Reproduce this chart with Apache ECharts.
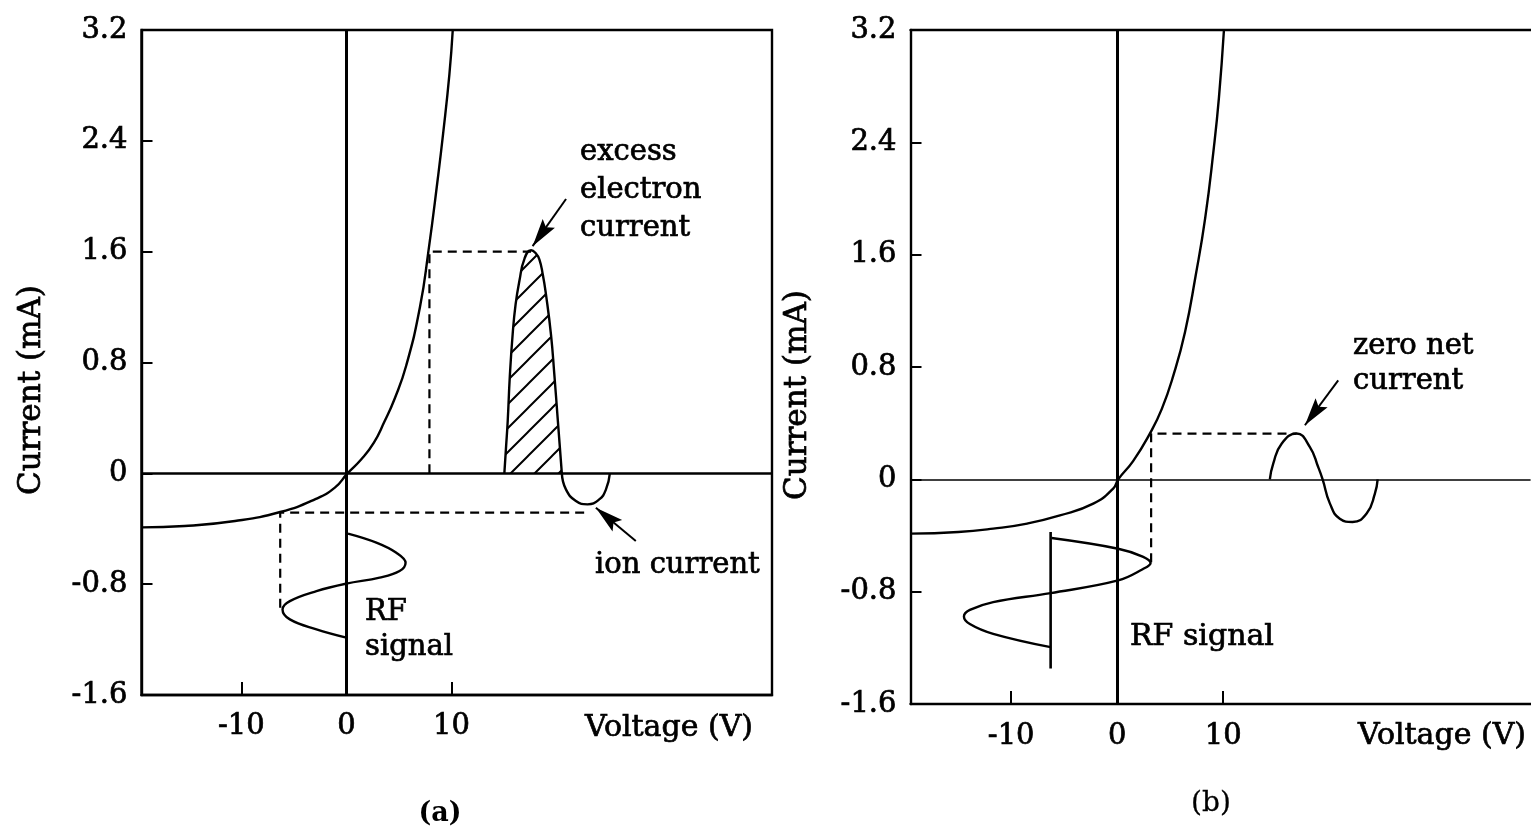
<!DOCTYPE html>
<html>
<head>
<meta charset="utf-8">
<script src="https://cdn.jsdelivr.net/npm/echarts@6/dist/echarts.min.js"></script>
<style>
html,body{margin:0;padding:0;background:#fff;}
#chart{width:1531px;height:831px;}
</style>
</head>
<body>
<div id="chart"></div>
<script>
// ---- axis ticks ----
const xTicks = [-10, 0, 10];
const yTicks = [-1.6, -0.8, 0, 0.8, 1.6, 2.4, 3.2];

// ---- probe I-V characteristic (V, mA) ----
const ivCurveA = [[-19.5,-0.39],[-15.4,-0.38],[-10.6,-0.344],[-6.3,-0.279],[-3.0,-0.188],[-1.1,-0.103],[0.1,0],[1.4,0.1],[2.6,0.22],[3.6,0.37],[4.6,0.54],[5.7,0.78],[7.0,1.2],[7.8,1.6],[8.7,2.13],[9.2,2.45],[9.8,2.88],[10.12,3.2]];
const ivCurveB = [[-19.5,-0.387],[-15,-0.375],[-11.7,-0.351],[-8.5,-0.315],[-5.4,-0.257],[-2.26,-0.173],[-0.38,-0.066],[0.1,0],[1.5,0.13],[3.08,0.326],[4.2,0.5],[5.3,0.74],[6.4,1.05],[7.4,1.45],[8.3,1.86],[9.1,2.35],[9.6,2.72],[10.07,3.2]];

// ---- panel (a) ----
const rfSignalA = [[0.15,-0.435],[2.85,-0.5],[4.75,-0.573],[5.63,-0.645],[5.06,-0.705],[3.16,-0.753],[0,-0.796],[-2.85,-0.85],[-5.38,-0.922],[-6.08,-0.982],[-5.38,-1.054],[-2.85,-1.126],[0,-1.186]];
const excessA = [[15.03,0],[15.2,0.2],[15.35,0.378],[15.55,0.7],[15.82,1.004],[16.1,1.22],[16.46,1.388],[16.95,1.55],[17.57,1.61],[18.0,1.59],[18.36,1.545],[18.7,1.43],[18.99,1.292],[19.47,1.0],[19.78,0.72],[20.1,0.4],[20.32,0.18],[20.5,0]];
const ionA = [[20.5,0],[20.89,-0.116],[21.84,-0.2],[22.94,-0.224],[24.06,-0.188],[24.7,-0.116],[25.07,0]];
const guideA1 = [[7.9,0],[7.9,1.6],[17.57,1.6]];
const guideA2 = [[-6.3,-0.97],[-6.3,-0.284],[22.94,-0.284]];
const arrowA1 = [[20.9,1.98],[17.72,1.64]];
const arrowA2 = [[27.54,-0.489],[23.74,-0.248]];

// ---- panel (b) ----
const rfSignalB = [[-6.19,-0.418],[0.09,-0.494],[2.4,-0.55],[3.15,-0.596],[2.4,-0.64],[0.09,-0.72],[-6.28,-0.81],[-11.7,-0.874],[-13.9,-0.93],[-14.46,-0.976],[-13.9,-1.03],[-11.7,-1.1],[-6.28,-1.195]];
const rfAxisB = [[-6.28,-0.375],[-6.28,-1.348]];
const waveB = [[14.4,0],[14.72,0.112],[15.51,0.254],[16.92,0.326],[18.18,0.23],[18.96,0.088],[19.38,0],[20.07,-0.173],[21.0,-0.28],[22.2,-0.304],[23.53,-0.244],[24.31,-0.102],[24.57,0]];
const guideB = [[3.2,-0.59],[3.2,0.326],[16.92,0.326]];
const arrowB = [[20.85,0.705],[17.71,0.385]];

const FONT = 'DejaVu Serif';
const BLACK = '#000';
const LW = 2.4;

function hatchPattern() {
  const c = document.createElement('canvas');
  c.width = 24; c.height = 24;
  const g = c.getContext('2d');
  g.strokeStyle = BLACK; g.lineWidth = 2;
  g.beginPath();
  g.moveTo(-4, 28); g.lineTo(28, -4);
  g.moveTo(-8, 8); g.lineTo(8, -8);
  g.moveTo(16, 32); g.lineTo(32, 16);
  g.stroke();
  return c;
}

function makeX(gi, max, margin) {
  return {
    gridIndex: gi, type: 'value', min: -19.5, max: max,
    axisLine: {show: true, onZero: false, lineStyle: {color: BLACK, width: LW}},
    axisTick: {show: true, inside: true, length: 13, customValues: xTicks, lineStyle: {color: BLACK, width: 2}},
    axisLabel: {show: true, customValues: xTicks, margin: margin, color: BLACK, fontFamily: FONT, fontSize: 29,
      textBorderColor: BLACK, textBorderWidth: 0.7},
    splitLine: {show: false}
  };
}
function makeTop(gi, max) {
  return {
    gridIndex: gi, type: 'value', min: -19.5, max: max, position: 'top',
    axisLine: {show: true, onZero: false, lineStyle: {color: BLACK, width: LW}},
    axisTick: {show: false}, axisLabel: {show: false}, splitLine: {show: false}
  };
}
function makeY(gi) {
  return {
    gridIndex: gi, type: 'value', min: -1.6, max: 3.2, interval: 0.8,
    axisLine: {show: true, onZero: false, lineStyle: {color: BLACK, width: LW}},
    axisTick: {show: true, inside: true, length: 11, customValues: yTicks, lineStyle: {color: BLACK, width: 2}},
    axisLabel: {show: true, customValues: yTicks, margin: 14, color: BLACK, fontFamily: FONT, fontSize: 29,
      textBorderColor: BLACK, textBorderWidth: 0.7,
      formatter: v => String(Math.round(v * 10) / 10)},
    splitLine: {show: false}
  };
}

function curve(gi, data, width, smooth, extra) {
  return Object.assign({
    type: 'line', xAxisIndex: gi, yAxisIndex: gi, data: data, smooth: smooth,
    symbol: 'none', silent: true, z: 5,
    lineStyle: {color: BLACK, width: width}
  }, extra || {});
}
function dashed(gi, data) {
  return curve(gi, data, 2.2, false, {lineStyle: {color: BLACK, width: 2.2, type: [9, 6]}});
}
function arrow(gi, pts) {
  return {
    type: 'line', xAxisIndex: gi, yAxisIndex: gi, data: [], silent: true,
    markLine: {
      silent: true, animation: false, label: {show: false},
      lineStyle: {color: BLACK, width: 2, type: 'solid'},
      data: [[
        {coord: pts[0], symbol: 'none'},
        {coord: pts[1], symbol: 'path://M7,0 L14,28 L7,23 L0,28 Z', symbolSize: [15, 28], symbolOffset: [0, 14]}
      ]]
    }
  };
}
function zeroLines(gi, vw, hw) {
  return {
    type: 'line', xAxisIndex: gi, yAxisIndex: gi, data: [], silent: true,
    markLine: {
      silent: true, animation: false, symbol: 'none', label: {show: false},
      data: [
        {xAxis: 0, lineStyle: {color: BLACK, width: vw, type: 'solid'}},
        {yAxis: 0, lineStyle: {color: BLACK, width: hw, type: 'solid'}}
      ]
    }
  };
}

function txt(x, y, text, opts) {
  opts = opts || {};
  return {
    type: 'text', x: x, y: y, rotation: opts.rotation || 0, z: 100,
    style: {
      text: text, fill: BLACK, stroke: BLACK, lineWidth: opts.sw == null ? 0.7 : opts.sw,
      font: (opts.weight || 'normal') + ' ' + (opts.size || 29) + 'px "' + FONT + '"',
      align: opts.align || 'left', verticalAlign: 'middle', lineHeight: opts.lh || 35
    }
  };
}

const chart = echarts.init(document.getElementById('chart'), null, {renderer: 'canvas'});
chart.setOption({
  animation: false,
  backgroundColor: '#fff',
  grid: [
    {left: 141.5, top: 30, width: 630.5, height: 665, show: true, borderColor: BLACK, borderWidth: LW, backgroundColor: 'transparent'},
    {left: 910.5, top: 30, width: 620.1, height: 674, show: false}
  ],
  xAxis: [makeX(0, 40.5, 17), makeX(1, 39, 18), makeTop(1, 39)],
  yAxis: [makeY(0), makeY(1)],
  series: [
    zeroLines(0, 3, 2.6),
    curve(0, ivCurveA, LW, 0.5),
    curve(0, rfSignalA, LW, 0.4),
    curve(0, excessA, LW, 0.5, {areaStyle: {color: {image: hatchPattern(), repeat: 'repeat'}, opacity: 1, origin: 0}}),
    curve(0, ionA, LW, 0.5),
    dashed(0, guideA1),
    dashed(0, guideA2),
    arrow(0, arrowA1),
    arrow(0, arrowA2),

    zeroLines(1, 3, 1.6),
    curve(1, ivCurveB, LW, 0.5),
    curve(1, rfSignalB, LW, 0.4),
    curve(1, rfAxisB, 2.6, false),
    curve(1, waveB, LW, 0.5),
    dashed(1, guideB),
    arrow(1, arrowB)
  ],
  graphic: [
    txt(32, 390, 'Current (mA)', {rotation: Math.PI / 2, align: 'center', size: 31}),
    txt(798, 395, 'Current (mA)', {rotation: Math.PI / 2, align: 'center', size: 31}),
    txt(580, 190, 'excess\nelectron\ncurrent', {lh: 38}),
    txt(595, 565, 'ion current'),
    txt(365, 630, 'RF\nsignal', {lh: 35}),
    txt(585, 728, 'Voltage (V)', {size: 30}),
    txt(440, 814, '(a)', {align: 'center', size: 27, weight: 'bold', sw: 0}),
    txt(1353, 364, 'zero net\ncurrent', {lh: 35}),
    txt(1130, 637, 'RF signal', {size: 30}),
    txt(1358, 736, 'Voltage (V)', {size: 30}),
    txt(1211, 804, '(b)', {align: 'center', size: 28, sw: 0.3})
  ]
});
</script>
</body>
</html>
